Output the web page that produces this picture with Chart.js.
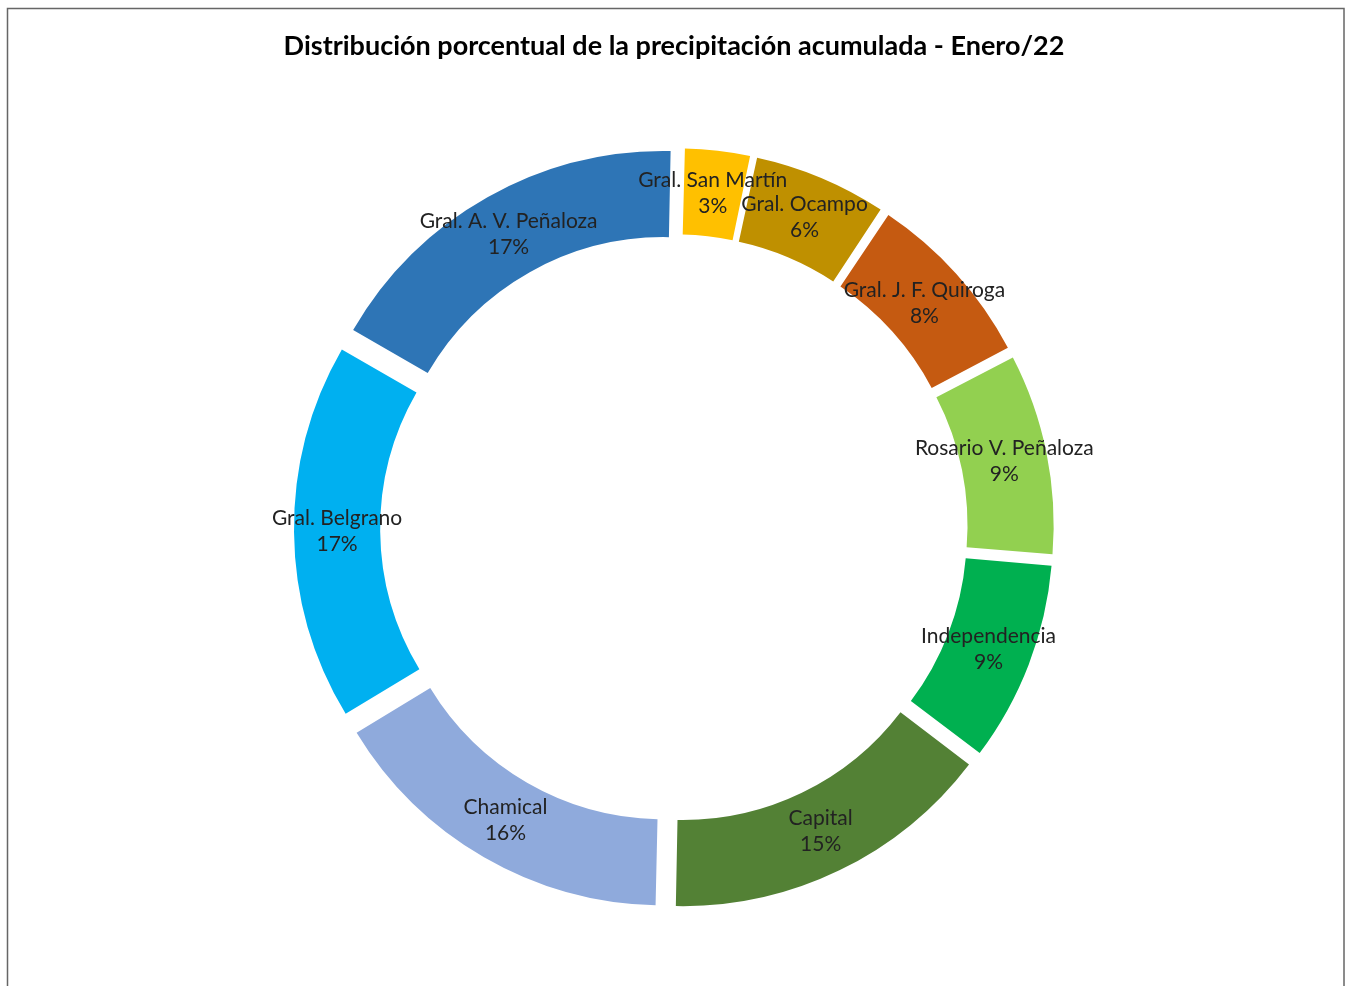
<!DOCTYPE html>
<html>
<head>
<meta charset="utf-8">
<script src="https://cdn.jsdelivr.net/npm/chart.js@4.4.0/dist/chart.umd.min.js"></script>
<style>
  body { margin: 0; background: #fff; }
  #wrap { position: relative; width: 1345px; height: 986px; }
</style>
</head>
<body>
<div id="wrap"><canvas id="myDoughnut"></canvas></div>
<script>
// datos
var categorias = ["Gral. San Martín", "Gral. Ocampo", "Gral. J. F. Quiroga", "Rosario V. Peñaloza",
  "Independencia", "Capital", "Chamical", "Gral. Belgrano", "Gral. A. V. Peñaloza"];
var porcentajes = [3, 6, 8, 9, 9, 15, 16, 17, 17];
var colores = ["#FFC000", "#BF9000", "#C55A11", "#92D050", "#00B050", "#538135", "#8FAADC", "#00B0F0", "#2E75B6"];

var EXPLODE = 24; // desplazamiento de cada porción hacia afuera (px)
var total = porcentajes.reduce(function(a, b) { return a + b; }, 0);

// chart.js mueve offset/4 y agranda el radio offset/4*fix, se compensa por porción
function offsetPorcion(ctx) {
  var circ = porcentajes[ctx.dataIndex] / total * Math.PI * 2;
  var fix = 1 - Math.sin(Math.min(Math.PI, circ));
  return EXPLODE * 4 / (1 + fix);
}

var marco = {
  id: 'marco',
  beforeDraw: function(chart) {
    var c = chart.ctx;
    c.save();
    c.strokeStyle = '#666';
    c.lineWidth = 1.5;
    c.strokeRect(7.5, 8.5, 1336.5, 1000);
    c.restore();
  }
};

var etiquetas = {
  id: 'etiquetas',
  afterDatasetsDraw: function(chart) {
    var c = chart.ctx;
    var meta = chart.getDatasetMeta(0);
    c.save();
    c.fillStyle = '#222';
    c.font = '21px Lato';
    c.textAlign = 'center';
    c.textBaseline = 'middle';
    meta.data.forEach(function(arc, i) {
      var p = arc.getProps(['x', 'y', 'startAngle', 'endAngle', 'innerRadius', 'outerRadius'], true);
      var mid = (p.startAngle + p.endAngle) / 2;
      var r = (p.innerRadius + p.outerRadius) / 2 + EXPLODE;
      var x = p.x + Math.cos(mid) * r;
      var y = p.y + Math.sin(mid) * r;
      c.fillText(categorias[i], x, y - 13);
      c.fillText(porcentajes[i] + '%', x, y + 13);
    });
    c.restore();
  }
};

var ctx = document.getElementById("myDoughnut");

var myDoughnut = new Chart(ctx, {
  type: 'doughnut',
  data: {
    labels: categorias,
    datasets: [{
      data: porcentajes,
      backgroundColor: colores,
      borderWidth: 0,
      offset: offsetPorcion,
      hoverOffset: offsetPorcion
    }]
  },
  options: {
    responsive: true,
    maintainAspectRatio: false,
    animation: false,
    radius: 356,
    cutout: '75.8%',
    rotation: 1.2,
    layout: {
      padding: { left: 3, right: 0, top: 0, bottom: 0 }
    },
    plugins: {
      legend: { display: false },
      tooltip: { enabled: false },
      title: {
        display: true,
        text: 'Distribución porcentual de la precipitación acumulada - Enero/22',
        color: '#000',
        font: { family: 'Lato', size: 27, weight: 'bold' },
        padding: { top: 30, bottom: 8 }
      }
    }
  },
  plugins: [marco, etiquetas]
});
</script>
</body>
</html>
